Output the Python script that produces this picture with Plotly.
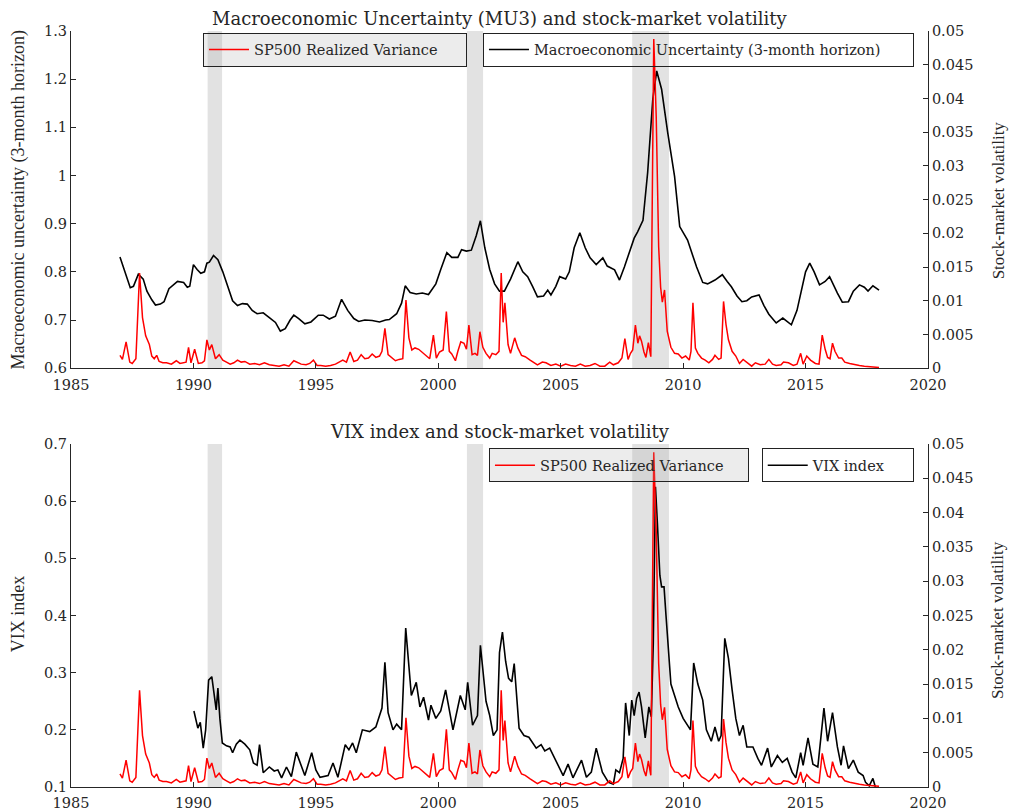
import plotly.graph_objects as go

# ---------------- data ----------------
mu_years = [1987.0, 1987.2, 1987.42, 1987.55, 1987.75, 1987.95, 1988.1, 1988.3, 1988.45, 1988.65, 1988.8,
            1989.0, 1989.15, 1989.35, 1989.6, 1989.75, 1989.85, 1990.0, 1990.15, 1990.3, 1990.45, 1990.55,
            1990.65, 1990.82, 1991.0, 1991.2, 1991.4, 1991.6, 1991.8, 1992.0, 1992.2, 1992.4, 1992.6, 1992.85,
            1993.1, 1993.35, 1993.55, 1993.75, 1993.95, 1994.1, 1994.3, 1994.55, 1994.8, 1995.1, 1995.3,
            1995.55, 1995.8, 1996.05, 1996.3, 1996.55, 1996.75, 1997.0, 1997.3, 1997.6, 1997.85, 1998.0,
            1998.3, 1998.5, 1998.65, 1998.85, 1999.1, 1999.35, 1999.6, 1999.9, 2000.1, 2000.35, 2000.55,
            2000.8, 2000.95, 2001.15, 2001.35, 2001.55, 2001.72, 2001.9, 2002.1, 2002.3, 2002.5, 2002.7,
            2002.95, 2003.25, 2003.45, 2003.65, 2003.85, 2004.05, 2004.3, 2004.47, 2004.6, 2004.8, 2004.96,
            2005.2, 2005.35, 2005.55, 2005.78, 2006.0, 2006.2, 2006.45, 2006.72, 2006.9, 2007.2, 2007.4,
            2007.6, 2007.8, 2008.0, 2008.14, 2008.36, 2008.55, 2008.76, 2008.92, 2009.12, 2009.37, 2009.65,
            2009.86, 2010.18, 2010.35, 2010.55, 2010.8, 2011.0, 2011.3, 2011.6, 2011.8, 2011.97, 2012.2,
            2012.4, 2012.6, 2012.8, 2013.1, 2013.3, 2013.5, 2013.8, 2014.07, 2014.25, 2014.42, 2014.65,
            2014.85, 2015.0, 2015.17, 2015.35, 2015.57, 2015.8, 2015.98, 2016.15, 2016.3, 2016.5, 2016.75,
            2016.95, 2017.2, 2017.4, 2017.55, 2017.75, 2017.9, 2018.0]
mu_values = [0.831, 0.8, 0.767, 0.77, 0.795, 0.785, 0.76, 0.742, 0.731, 0.733, 0.738,
             0.765, 0.772, 0.78, 0.778, 0.768, 0.77, 0.815, 0.805, 0.797, 0.8, 0.818,
             0.82, 0.834, 0.825, 0.8, 0.77, 0.74, 0.73, 0.734, 0.733, 0.72, 0.713, 0.715,
             0.705, 0.695, 0.677, 0.682, 0.7, 0.71, 0.703, 0.692, 0.696, 0.71, 0.71,
             0.702, 0.708, 0.743, 0.72, 0.703, 0.697, 0.7, 0.699, 0.696, 0.7, 0.701,
             0.713, 0.735, 0.771, 0.757, 0.754, 0.756, 0.753, 0.775, 0.805, 0.84, 0.83,
             0.83, 0.846, 0.843, 0.845, 0.875, 0.906, 0.85, 0.805, 0.775, 0.76, 0.76,
             0.785, 0.821, 0.8, 0.79, 0.77, 0.748, 0.75, 0.762, 0.752, 0.77, 0.79,
             0.785, 0.8, 0.85, 0.881, 0.85, 0.829, 0.815, 0.829, 0.812, 0.804, 0.783,
             0.81, 0.84, 0.87, 0.883, 0.907, 1.006, 1.158, 1.217, 1.179, 1.089, 0.998,
             0.894, 0.866, 0.84, 0.81, 0.778, 0.775, 0.783, 0.794, 0.78, 0.769, 0.75,
             0.738, 0.74, 0.748, 0.752, 0.73, 0.712, 0.694, 0.704, 0.697, 0.69, 0.72,
             0.762, 0.8, 0.818, 0.8, 0.773, 0.78, 0.79, 0.77, 0.756, 0.737, 0.738,
             0.76, 0.773, 0.768, 0.76, 0.771, 0.765, 0.762]

rv_years = [1987.0, 1987.1, 1987.25, 1987.4, 1987.5, 1987.65, 1987.8, 1987.92, 1988.05, 1988.2, 1988.3,
            1988.4, 1988.5, 1988.6, 1988.75, 1988.9, 1989.1, 1989.3, 1989.45, 1989.6, 1989.7, 1989.8,
            1989.9, 1990.05, 1990.2, 1990.35, 1990.45, 1990.55, 1990.65, 1990.75, 1990.9, 1991.05, 1991.2,
            1991.35, 1991.5, 1991.65, 1991.8, 1991.95, 1992.1, 1992.3, 1992.5, 1992.7, 1992.9, 1993.1,
            1993.3, 1993.5, 1993.7, 1993.9, 1994.1, 1994.25, 1994.4, 1994.6, 1994.75, 1994.9, 1995.05,
            1995.2, 1995.4, 1995.6, 1995.8, 1995.95, 1996.1, 1996.25, 1996.4, 1996.55, 1996.7, 1996.85,
            1997.0, 1997.15, 1997.3, 1997.45, 1997.6, 1997.7, 1997.82, 1997.95, 1998.1, 1998.25, 1998.4,
            1998.55, 1998.68, 1998.8, 1998.92, 1999.05, 1999.2, 1999.35, 1999.5, 1999.65, 1999.8, 1999.92,
            2000.05, 2000.2, 2000.33, 2000.45, 2000.55, 2000.7, 2000.8, 2000.92, 2001.05, 2001.15, 2001.25,
            2001.38, 2001.5, 2001.6, 2001.7, 2001.82, 2001.95, 2002.1, 2002.2, 2002.35, 2002.48, 2002.57,
            2002.65, 2002.72, 2002.85, 2002.95, 2003.12, 2003.25, 2003.4, 2003.55, 2003.75, 2003.9, 2004.05,
            2004.25, 2004.4, 2004.6, 2004.8, 2005.0, 2005.2, 2005.4, 2005.6, 2005.8, 2006.0, 2006.2,
            2006.4, 2006.6, 2006.8, 2007.0, 2007.15, 2007.35, 2007.5, 2007.62, 2007.75, 2007.85, 2007.94,
            2008.05, 2008.15, 2008.22, 2008.3, 2008.4, 2008.48, 2008.58, 2008.68, 2008.8, 2008.9, 2009.0,
            2009.08, 2009.15, 2009.24, 2009.35, 2009.5, 2009.65, 2009.8, 2009.95, 2010.1, 2010.25, 2010.32,
            2010.4, 2010.5, 2010.6, 2010.75, 2010.9, 2011.05, 2011.2, 2011.3, 2011.45, 2011.55, 2011.65,
            2011.75, 2011.85, 2012.0, 2012.15, 2012.3, 2012.45, 2012.6, 2012.8, 2012.95, 2013.15, 2013.35,
            2013.5, 2013.65, 2013.8, 2014.0, 2014.1, 2014.3, 2014.5, 2014.65, 2014.8, 2014.9, 2015.05,
            2015.2, 2015.4, 2015.55, 2015.68, 2015.8, 2015.9, 2016.0, 2016.1, 2016.2, 2016.35, 2016.48,
            2016.6, 2016.8, 2017.0, 2017.2, 2017.4, 2017.6, 2017.8, 2018.0]
rv_values = [0.0019, 0.0013, 0.0039, 0.0009, 0.0007, 0.0014, 0.0141, 0.0075, 0.0048, 0.0035, 0.0018,
             0.0014, 0.0019, 0.001, 0.0008, 0.0008, 0.0006, 0.0011, 0.0007, 0.0008, 0.0009, 0.0031,
             0.0008, 0.0028, 0.0007, 0.0008, 0.0011, 0.0042, 0.0027, 0.0035, 0.0014, 0.002, 0.0012,
             0.0009, 0.0006, 0.0008, 0.0012, 0.0009, 0.001, 0.0006, 0.0007, 0.0005, 0.0008, 0.0005,
             0.0004, 0.0003, 0.0005, 0.0003, 0.0011, 0.0008, 0.0006, 0.0005, 0.0007, 0.0012, 0.0004,
             0.0004, 0.0003, 0.0004, 0.0006, 0.0009, 0.0012, 0.0009, 0.0024, 0.001, 0.0012, 0.002,
             0.0014, 0.0015, 0.0021, 0.0016, 0.0018, 0.0025, 0.0059, 0.002, 0.0016, 0.0011, 0.0013,
             0.0014, 0.0101, 0.0045, 0.0027, 0.003, 0.0028, 0.0023, 0.0019, 0.0014, 0.0049, 0.0015,
             0.0024, 0.0027, 0.0084, 0.0025, 0.0021, 0.0011, 0.0025, 0.0039, 0.0037, 0.0028, 0.0064,
             0.002, 0.0022, 0.0019, 0.0054, 0.0031, 0.0022, 0.0015, 0.0022, 0.002, 0.0025, 0.0141,
             0.0068, 0.0097, 0.0035, 0.0022, 0.0045, 0.003, 0.0019, 0.0017, 0.0012, 0.0009, 0.0005,
             0.0009, 0.0008, 0.0004, 0.0006, 0.0003, 0.0006, 0.0004, 0.0003, 0.0006, 0.0003, 0.0004,
             0.0007, 0.0003, 0.0003, 0.0009, 0.0005, 0.0008, 0.0015, 0.0044, 0.0013, 0.0022, 0.0027,
             0.0064, 0.0037, 0.0048, 0.004, 0.0024, 0.0016, 0.0038, 0.0017, 0.0488, 0.0374, 0.018,
             0.012, 0.0098, 0.0116, 0.0055, 0.0031, 0.0022, 0.0021, 0.0015, 0.0018, 0.0012, 0.0025,
             0.0097, 0.003, 0.0022, 0.0015, 0.0012, 0.0008, 0.0013, 0.0019, 0.0013, 0.0015, 0.0099,
             0.0065, 0.0042, 0.0025, 0.0018, 0.0007, 0.0013, 0.0009, 0.0003, 0.0008, 0.0005, 0.0006,
             0.0013, 0.0006, 0.0004, 0.0005, 0.0009, 0.0008, 0.0004, 0.0006, 0.0022, 0.0006, 0.0018,
             0.0012, 0.0007, 0.0006, 0.0049, 0.0028, 0.0016, 0.0014, 0.0037, 0.0025, 0.0015, 0.0015,
             0.0009, 0.0007, 0.0005, 0.0004, 0.0003, 0.0002, 0.0002, 0.0001]

vix_years = [1990.02, 1990.1, 1990.18, 1990.28, 1990.4, 1990.5, 1990.56, 1990.62, 1990.75, 1990.85, 1990.93,
             1991.0, 1991.08, 1991.18, 1991.35, 1991.5, 1991.6, 1991.75, 1991.9, 1992.1, 1992.3, 1992.45,
             1992.6, 1992.7, 1992.85, 1993.1, 1993.3, 1993.45, 1993.6, 1993.8, 1994.0, 1994.2, 1994.4,
             1994.55, 1994.83, 1995.0, 1995.17, 1995.5, 1995.7, 1995.9, 1996.2, 1996.35, 1996.5, 1996.65,
             1996.9, 1997.2, 1997.45, 1997.55, 1997.7, 1997.82, 1997.95, 1998.15, 1998.3, 1998.5, 1998.67,
             1998.9, 1999.1, 1999.25, 1999.4, 1999.6, 1999.7, 1999.9, 2000.1, 2000.3, 2000.5, 2000.6,
             2000.9, 2001.1, 2001.2, 2001.4, 2001.6, 2001.72, 2001.95, 2002.1, 2002.25, 2002.4, 2002.5,
             2002.62, 2002.75, 2002.87, 2003.0, 2003.1, 2003.3, 2003.5, 2003.7, 2004.0, 2004.2, 2004.35,
             2004.55, 2004.9, 2005.1, 2005.3, 2005.5, 2005.85, 2006.05, 2006.25, 2006.45, 2006.7, 2006.95,
             2007.15, 2007.25, 2007.4, 2007.55, 2007.65, 2007.8, 2007.9, 2008.0, 2008.1, 2008.2, 2008.3,
             2008.45, 2008.6, 2008.7, 2008.78, 2008.87, 2008.95, 2009.05, 2009.12, 2009.22, 2009.3, 2009.4,
             2009.5, 2009.65, 2009.8, 2010.0, 2010.15, 2010.3, 2010.43, 2010.6, 2010.8, 2010.95, 2011.15,
             2011.3, 2011.45, 2011.55, 2011.7, 2011.85, 2012.0, 2012.15, 2012.3, 2012.45, 2012.6, 2012.85,
             2013.05, 2013.2, 2013.45, 2013.6, 2013.85, 2014.05, 2014.25, 2014.45, 2014.6, 2014.8, 2014.9,
             2015.1, 2015.3, 2015.5, 2015.75, 2015.9, 2016.1, 2016.3, 2016.45, 2016.55, 2016.75, 2016.95,
             2017.15, 2017.35, 2017.45, 2017.6, 2017.75, 2017.85]
vix_values = [0.233, 0.22, 0.203, 0.213, 0.168, 0.2, 0.256, 0.287, 0.293, 0.26, 0.235,
              0.273, 0.22, 0.177, 0.172, 0.17, 0.16, 0.175, 0.182, 0.175, 0.165, 0.142,
              0.138, 0.174, 0.125, 0.135, 0.128, 0.13, 0.116, 0.135, 0.118, 0.161, 0.138,
              0.12, 0.16, 0.13, 0.117, 0.12, 0.142, 0.117, 0.174, 0.165, 0.177, 0.16,
              0.2, 0.197, 0.205, 0.22, 0.238, 0.318, 0.23, 0.2, 0.21, 0.2, 0.378,
              0.26, 0.283, 0.24, 0.257, 0.217, 0.243, 0.22, 0.233, 0.27, 0.22, 0.2,
              0.26, 0.235, 0.283, 0.208, 0.225, 0.348, 0.25, 0.225, 0.19, 0.2, 0.335,
              0.371, 0.32, 0.29, 0.284, 0.316, 0.203, 0.19, 0.187, 0.168, 0.174, 0.163,
              0.168, 0.138, 0.12, 0.14, 0.116, 0.147, 0.117, 0.126, 0.168, 0.126, 0.108,
              0.105, 0.13, 0.125, 0.15, 0.247, 0.19, 0.252, 0.225, 0.255, 0.266, 0.24,
              0.186, 0.24, 0.223, 0.35, 0.625, 0.56, 0.47, 0.45, 0.45, 0.4, 0.34,
              0.28, 0.26, 0.24, 0.22, 0.21, 0.2, 0.317, 0.28, 0.252, 0.2, 0.18,
              0.205, 0.18, 0.19, 0.36, 0.325, 0.27, 0.22, 0.19, 0.208, 0.17, 0.17,
              0.15, 0.138, 0.168, 0.135, 0.155, 0.143, 0.15, 0.126, 0.116, 0.16, 0.138,
              0.186, 0.14, 0.135, 0.238, 0.18, 0.23, 0.17, 0.138, 0.172, 0.132, 0.147,
              0.126, 0.12, 0.108, 0.102, 0.115, 0.1]

recession_start = [1990.58, 2001.17, 2007.92]
recession_end = [1991.17, 2001.83, 2009.42]

# ---------------- figure ----------------
TXT = "#262626"
RED = "rgb(255,0,0)"
TICKFONT = dict(family="DejaVu Serif", size=14.5, color=TXT)
TOP_DOM = [0.554, 1.0]
BOT_DOM = [0.0, 0.4537]

fig = go.Figure()

fig.add_trace(go.Scatter(x=mu_years, y=mu_values, mode="lines", xaxis="x", yaxis="y",
                         line=dict(color="black", width=1.6),
                         name="Macroeconomic Uncertainty (3-month horizon)", legend="legend2"))
fig.add_trace(go.Scatter(x=rv_years, y=rv_values, mode="lines", xaxis="x", yaxis="y2",
                         line=dict(color=RED, width=1.5),
                         name="SP500 Realized Variance", legend="legend"))
fig.add_trace(go.Scatter(x=vix_years, y=vix_values, mode="lines", xaxis="x2", yaxis="y3",
                         line=dict(color="black", width=1.6),
                         name="VIX index", legend="legend4"))
fig.add_trace(go.Scatter(x=rv_years, y=rv_values, mode="lines", xaxis="x2", yaxis="y4",
                         line=dict(color=RED, width=1.5),
                         name="SP500 Realized Variance", legend="legend3"))

shapes = []
for s, e in zip(recession_start, recession_end):
    for xr, yr in (("x", "y domain"), ("x2", "y3 domain")):
        shapes.append(dict(type="rect", xref=xr, yref=yr, x0=s, x1=e, y0=0, y1=1,
                           fillcolor="#e2e2e2", line=dict(width=0), layer="below"))

axis_common = dict(showgrid=False, zeroline=False, showline=True, linecolor=TXT, linewidth=1,
                   ticks="inside", ticklen=5, tickcolor=TXT, tickfont=TICKFONT)
xaxis_common = dict(axis_common, domain=[0, 1], range=[1985, 2020], dtick=5, tick0=1985,
                    ticklabelstandoff=3)

def legend_box(x, y, bg, width):
    return dict(x=x, y=y, xanchor="left", yanchor="top", xref="paper", yref="paper",
                bgcolor=bg, bordercolor="#222222", borderwidth=1, orientation="h",
                entrywidth=width, entrywidthmode="pixels",
                font=dict(family="DejaVu Serif", size=14.5, color=TXT),
                tracegroupgap=0, itemwidth=40)

GRAY_BOX = "rgba(170,170,170,0.22)"
CLEAR_BOX = "rgba(255,255,255,0)"

fig.update_layout(
    width=1011, height=811,
    margin=dict(l=71, r=83, t=31, b=24, autoexpand=False),
    paper_bgcolor="white", plot_bgcolor="white",
    showlegend=True,
    xaxis=dict(xaxis_common, anchor="y"),
    yaxis=dict(axis_common, domain=TOP_DOM, anchor="x", range=[0.6, 1.3], dtick=0.1, tick0=0.6),
    yaxis2=dict(axis_common, overlaying="y", side="right", anchor="x", range=[0, 0.05],
                dtick=0.005, tick0=0),
    xaxis2=dict(xaxis_common, anchor="y3"),
    yaxis3=dict(axis_common, domain=BOT_DOM, anchor="x2", range=[0.1, 0.7], dtick=0.1, tick0=0.1),
    yaxis4=dict(axis_common, overlaying="y3", side="right", anchor="x2", range=[0, 0.05],
                dtick=0.005, tick0=0),
    legend=legend_box(0.154, 0.998, GRAY_BOX, 207),
    legend2=legend_box(0.4807, 0.998, CLEAR_BOX, 374),
    legend3=legend_box(0.4877, 0.448, GRAY_BOX, 203),
    legend4=legend_box(0.806, 0.448, CLEAR_BOX, 95),
    shapes=shapes,
    annotations=[
        dict(text="Macroeconomic Uncertainty (MU3) and stock-market volatility", x=0.5, y=1.017,
             xref="paper", yref="paper", showarrow=False, xanchor="center", yanchor="middle",
             font=dict(family="DejaVu Serif", size=18, color=TXT)),
        dict(text="VIX index and stock-market volatility", x=0.5, y=0.4696,
             xref="paper", yref="paper", showarrow=False, xanchor="center", yanchor="middle",
             font=dict(family="DejaVu Serif", size=18, color=TXT)),
        dict(text="Macroeconomic uncertainty (3-month horizon)", x=-0.0618, y=0.776,
             xref="paper", yref="paper", showarrow=False, textangle=-90,
             xanchor="center", yanchor="middle",
             font=dict(family="Liberation Serif", size=18, color=TXT)),
        dict(text="Stock-market volatility", x=1.0817, y=0.776,
             xref="paper", yref="paper", showarrow=False, textangle=-90,
             xanchor="center", yanchor="middle",
             font=dict(family="Liberation Serif", size=17, color=TXT)),
        dict(text="VIX index", x=-0.0618, y=0.2285,
             xref="paper", yref="paper", showarrow=False, textangle=-90,
             xanchor="center", yanchor="middle",
             font=dict(family="Liberation Serif", size=18, color=TXT)),
        dict(text="Stock-market volatility", x=1.0817, y=0.221,
             xref="paper", yref="paper", showarrow=False, textangle=-90,
             xanchor="center", yanchor="middle",
             font=dict(family="Liberation Serif", size=17, color=TXT)),
    ],
)

# remove the default 8px page margin so the 1011x811 figure fills the window exactly
fig.write_html("out.html", config={"displayModeBar": False},
               post_script="document.body.style.margin='0';")
